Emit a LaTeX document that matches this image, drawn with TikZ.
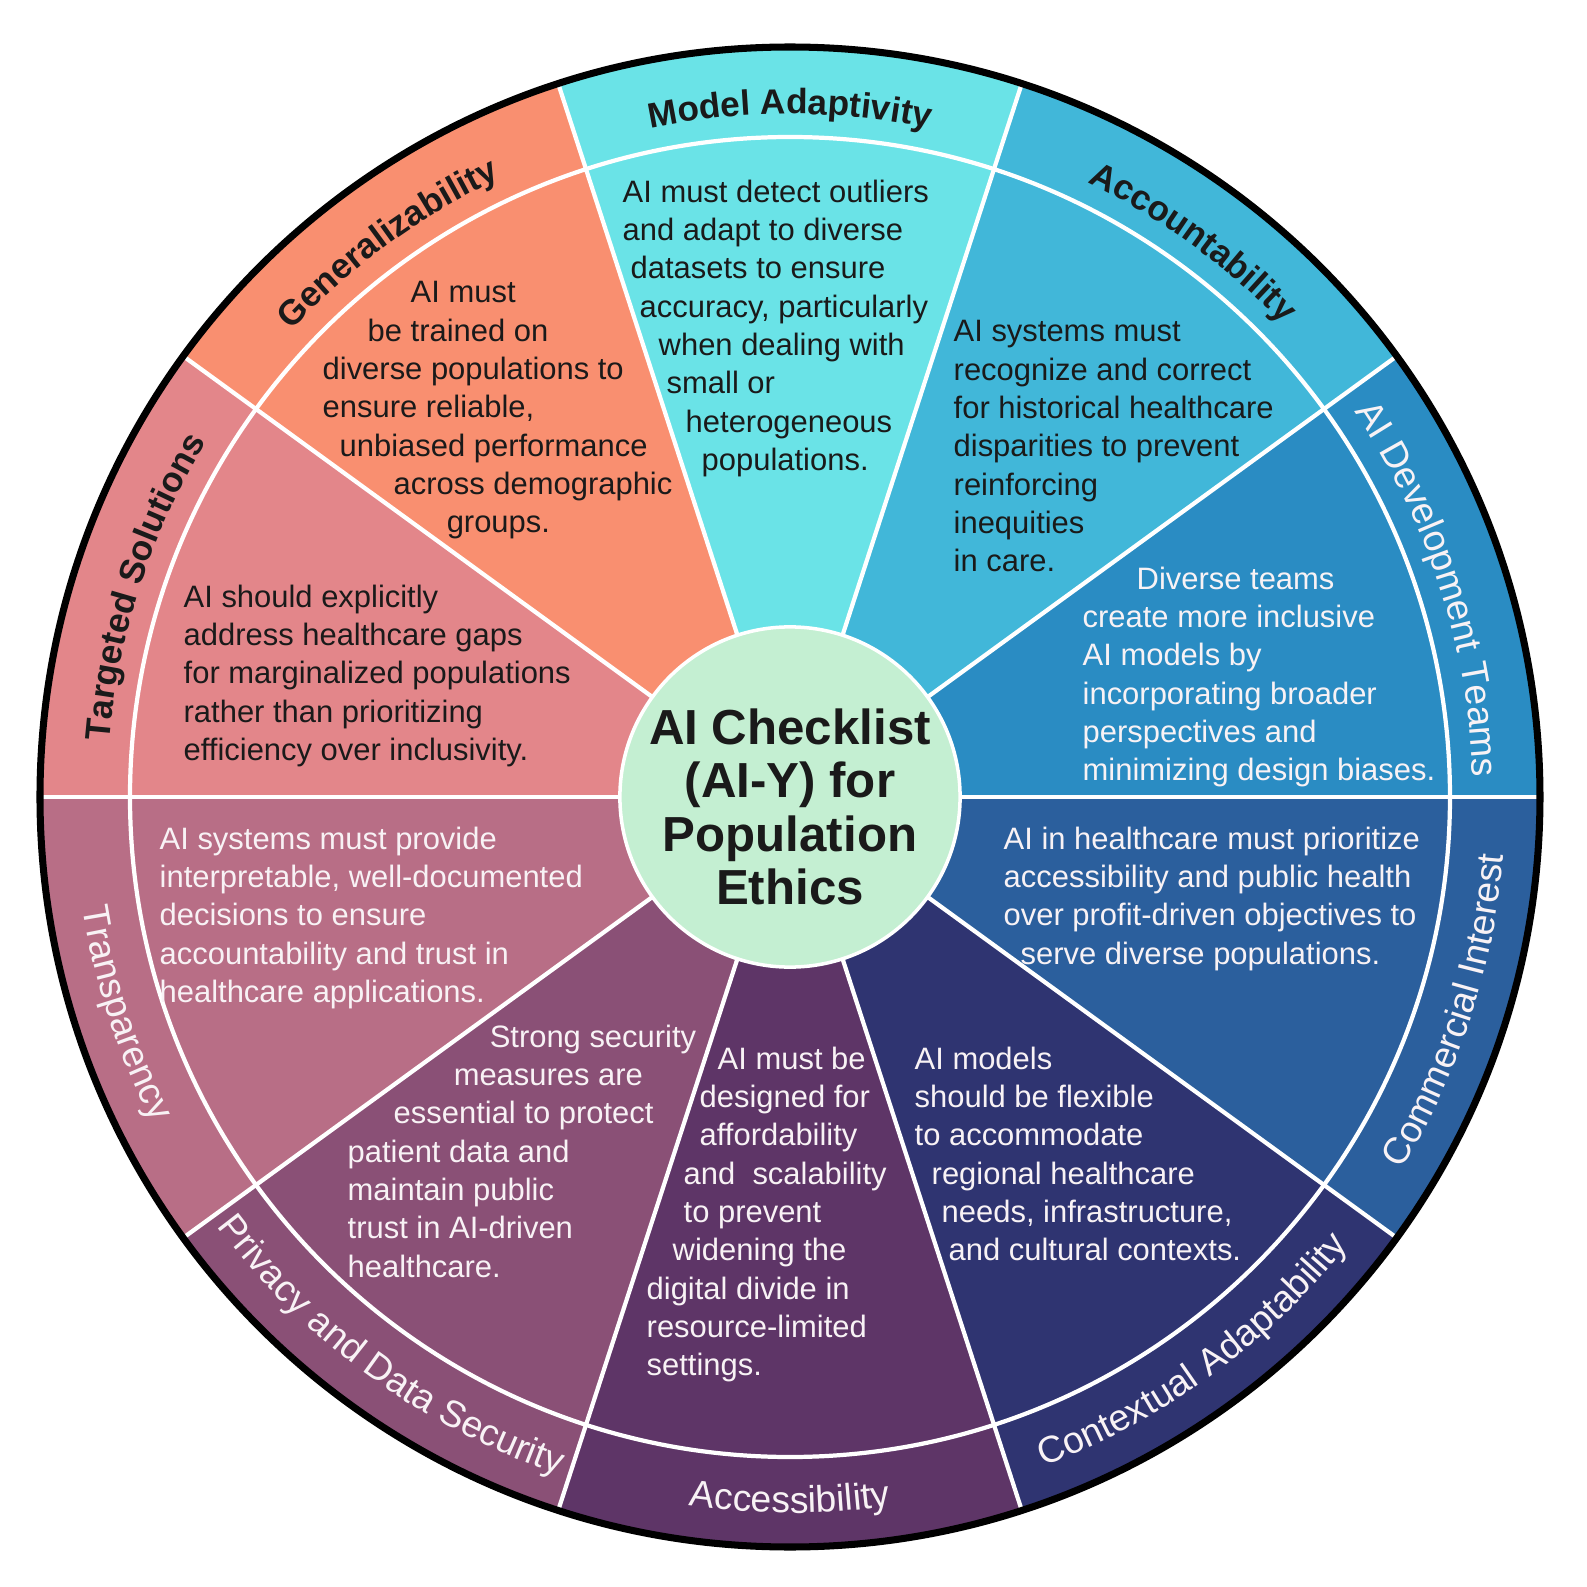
\documentclass[tikz,border=0pt]{standalone}
\usepackage{fontspec}
\setmainfont{Liberation Sans}
\usepackage{tikz}
\usetikzlibrary{decorations.text}
\pgfdeclarelayer{edgelayer}
\pgfdeclarelayer{nodelayer}
\pgfsetlayers{edgelayer,nodelayer,main}
\definecolor{teamsblue}{HTML}{2A8CC3}
\definecolor{accountblue}{HTML}{41B7D9}
\definecolor{adaptcyan}{HTML}{6AE3E7}
\definecolor{generalorange}{HTML}{F98F70}
\definecolor{targetpink}{HTML}{E3868A}
\definecolor{transrose}{HTML}{B86E86}
\definecolor{privplum}{HTML}{8A5076}
\definecolor{accesspurple}{HTML}{5E3567}
\definecolor{contextnavy}{HTML}{2F3471}
\definecolor{commerceblue}{HTML}{2B5F9D}
\definecolor{hubgreen}{HTML}{C4EFD2}
\definecolor{inkdark}{HTML}{1A1A1A}
\definecolor{inklight}{HTML}{F8F2F5}
\tikzstyle{spoke}=[draw=white, line width=1.2pt]
\tikzstyle{rim}=[draw=black, line width=2pt]
\tikzstyle{hub}=[circle, fill=hubgreen, draw=white, line width=1pt, minimum size=3.4cm, inner sep=0pt]
\tikzstyle{blurb}=[align=left, anchor=north west, inner sep=0pt, font=\fontsize{8.8}{10.9}\selectfont]
\tikzstyle{darkblurb}=[blurb, text=inkdark]
\tikzstyle{lightblurb}=[blurb, text=inklight]
\tikzset{arctitle/.style={decorate, decoration={text along path, text align=center, text={#1}}}}
\newcommand{\darktitle}{\fontsize{10}{12}\selectfont\bfseries\color{inkdark}}
\newcommand{\lighttitle}{\fontsize{10.6}{12}\selectfont\color{inklight}}

\begin{document}
\begin{tikzpicture}[x=0.01cm, y=0.01cm]
    \useasboundingbox (-790,-790) rectangle (797,797);
    \begin{pgfonlayer}{edgelayer}
        \fill [white] (-790,-790) rectangle (797,797);
        \fill [teamsblue] (0,0) -- (0:750) arc [start angle=0, end angle=36, radius=750] -- cycle;
        \fill [accountblue] (0,0) -- (36:750) arc [start angle=36, end angle=72, radius=750] -- cycle;
        \fill [adaptcyan] (0,0) -- (72:750) arc [start angle=72, end angle=108, radius=750] -- cycle;
        \fill [generalorange] (0,0) -- (108:750) arc [start angle=108, end angle=144, radius=750] -- cycle;
        \fill [targetpink] (0,0) -- (144:750) arc [start angle=144, end angle=180, radius=750] -- cycle;
        \fill [transrose] (0,0) -- (180:750) arc [start angle=180, end angle=216, radius=750] -- cycle;
        \fill [privplum] (0,0) -- (216:750) arc [start angle=216, end angle=252, radius=750] -- cycle;
        \fill [accesspurple] (0,0) -- (252:750) arc [start angle=252, end angle=288, radius=750] -- cycle;
        \fill [contextnavy] (0,0) -- (288:750) arc [start angle=288, end angle=324, radius=750] -- cycle;
        \fill [commerceblue] (0,0) -- (324:750) arc [start angle=324, end angle=360, radius=750] -- cycle;

        \draw [style=spoke] (0,0) circle [radius=660];
        \draw [style=spoke] (0,0) -- (0:750);
        \draw [style=spoke] (0,0) -- (36:750);
        \draw [style=spoke] (0,0) -- (72:750);
        \draw [style=spoke] (0,0) -- (108:750);
        \draw [style=spoke] (0,0) -- (144:750);
        \draw [style=spoke] (0,0) -- (180:750);
        \draw [style=spoke] (0,0) -- (216:750);
        \draw [style=spoke] (0,0) -- (252:750);
        \draw [style=spoke] (0,0) -- (288:750);
        \draw [style=spoke] (0,0) -- (324:750);
        \draw [style=rim] (0,0) circle [radius=750];
    \end{pgfonlayer}
    \begin{pgfonlayer}{nodelayer}
        \node [style=hub] (hub) at (0,0) {};
        \node [align=center, inner sep=0pt, text=inkdark, font=\fontsize{14}{15.2}\selectfont\bfseries] (hubtitle) at (0,-10) {AI Checklist\\(AI-Y) for\\Population\\Ethics};

        \node [style=darkblurb] (adaptblurb) at (-168,618) {AI must detect outliers\\and adapt to diverse\\\hspace*{0.08cm}datasets to ensure\\\hspace*{0.17cm}accuracy, particularly\\\hspace*{0.36cm}when dealing with\\\hspace*{0.44cm}small or\\\hspace*{0.63cm}heterogeneous\\\hspace*{0.79cm}populations.};
        \node [style=darkblurb] (generalblurb) at (-468,516) {\hspace*{0.88cm}AI must\\\hspace*{0.45cm}be trained on\\diverse populations to\\ensure reliable,\\\hspace*{0.17cm}unbiased performance\\\hspace*{0.71cm}across demographic\\\hspace*{1.24cm}groups.};
        \node [style=darkblurb] (targetblurb) at (-607,213) {AI should explicitly\\address healthcare gaps\\for marginalized populations\\rather than prioritizing\\efficiency over inclusivity.};
        \node [style=darkblurb] (accountblurb) at (163,477) {AI systems must\\recognize and correct\\for historical healthcare\\disparities to prevent\\reinforcing\\inequities\\in care.};
        \node [style=lightblurb] (teamsblurb) at (292,231) {\hspace*{0.54cm}Diverse teams\\create more inclusive\\AI models by\\incorporating broader\\perspectives and\\minimizing design biases.};
        \node [style=lightblurb] (commerceblurb) at (213,-29) {AI in healthcare must prioritize\\accessibility and public health\\over profit-driven objectives to\\\hspace*{0.17cm}serve diverse populations.};
        \node [style=lightblurb] (contextblurb) at (124,-249) {AI models\\should be flexible\\to accommodate\\\hspace*{0.17cm}regional healthcare\\\hspace*{0.27cm}needs, infrastructure,\\\hspace*{0.34cm}and cultural contexts.};
        \node [style=lightblurb] (accessblurb) at (-144,-249) {\hspace*{0.71cm}AI must be\\\hspace*{0.53cm}designed for\\\hspace*{0.53cm}affordability\\\hspace*{0.37cm}and\ \ scalability\\\hspace*{0.37cm}to prevent\\\hspace*{0.26cm}widening the\\digital divide in\\resource-limited\\settings.};
        \node [style=lightblurb] (privblurb) at (-443,-227) {\hspace*{1.42cm}Strong security\\\hspace*{1.06cm}measures are\\\hspace*{0.46cm}essential to protect\\patient data and\\maintain public\\trust in AI-driven\\healthcare.};
        \node [style=lightblurb] (transblurb) at (-631,-29) {AI systems must provide\\interpretable, well-documented\\decisions to ensure\\accountability and trust in\\healthcare applications.};

        % titles on the ring, upper half reads clockwise
        \path [arctitle={|\lighttitle|AI Development Teams}] (40:683) arc [start angle=40, end angle=-4, radius=683];
        \path [arctitle={|\darktitle|Accountability}] (76:683) arc [start angle=76, end angle=32, radius=683];
        \path [arctitle={|\darktitle|Model Adaptivity}] (112:683) arc [start angle=112, end angle=68, radius=683];
        \path [arctitle={|\darktitle|Generalizability}] (148:683) arc [start angle=148, end angle=104, radius=683];
        \path [arctitle={|\darktitle|Targeted Solutions}] (184:683) arc [start angle=184, end angle=140, radius=683];
        % lower half reads counterclockwise
        \path [arctitle={|\lighttitle|Transparency}] (176:716) arc [start angle=176, end angle=220, radius=716];
        \path [arctitle={|\lighttitle|Privacy and Data Security}] (212:716) arc [start angle=212, end angle=256, radius=716];
        \path [arctitle={|\lighttitle|Accessibility}] (248:716) arc [start angle=248, end angle=292, radius=716];
        \path [arctitle={|\lighttitle|Contextual Adaptability}] (284:716) arc [start angle=284, end angle=328, radius=716];
        \path [arctitle={|\lighttitle|Commercial Interest}] (320:716) arc [start angle=320, end angle=364, radius=716];
    \end{pgfonlayer}
\end{tikzpicture}
\end{document}
